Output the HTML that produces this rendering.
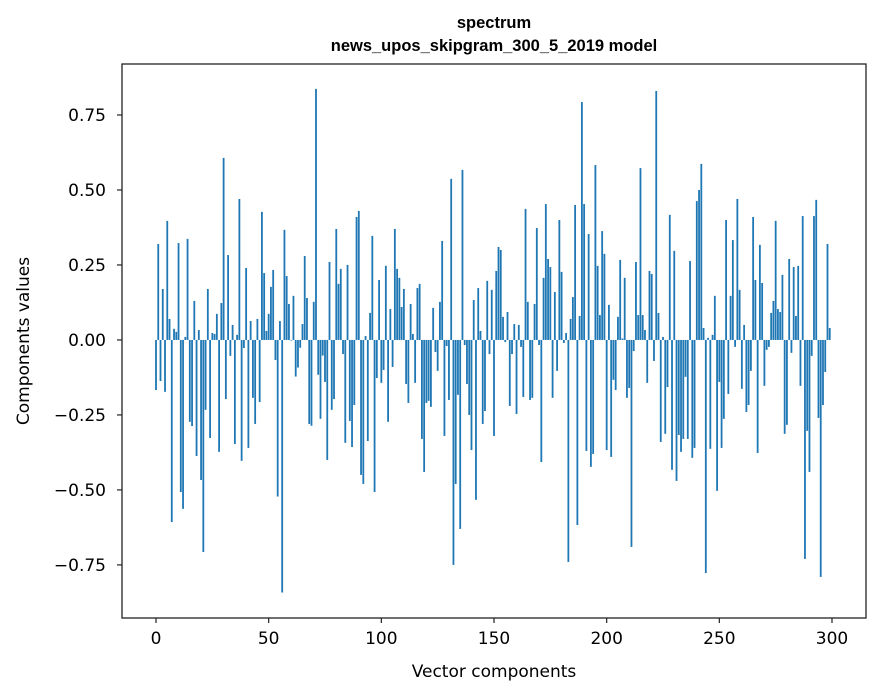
<!DOCTYPE html>
<html><head><meta charset="utf-8"><style>
body{margin:0;background:#fff;width:880px;height:696px;overflow:hidden}
svg{display:block}
text{font-family:"DejaVu Sans","Liberation Sans",sans-serif;fill:#000}
.t{font-family:"Liberation Sans",sans-serif;font-weight:bold;font-size:16.5px}
</style></head><body>
<svg id="chart" width="880" height="696" viewBox="0 0 880 696" xmlns="http://www.w3.org/2000/svg">
<text class="t" x="494" y="28" text-anchor="middle">spectrum</text>
<text class="t" x="494" y="51" text-anchor="middle">news_upos_skipgram_300_5_2019 model</text>
<g id="bars"></g>
<g id="xticks"></g>
<g id="yticks"></g>
<rect x="122" y="64" width="744" height="554" fill="none" stroke="#222" stroke-width="1.3"/>
<text x="494" y="677" text-anchor="middle" font-size="17">Vector components</text>
<text x="0" y="0" transform="translate(29,341) rotate(-90)" text-anchor="middle" font-size="17">Components values</text>
</svg>
<script>
const values = [
-0.167,0.32,-0.137,0.17,-0.173,0.397,0.07,-0.607,0.037,0.027,
0.323,-0.507,-0.563,0.01,0.337,-0.273,-0.287,0.13,-0.387,0.033,
-0.467,-0.707,-0.233,0.17,-0.327,0.023,0.02,0.087,-0.373,0.123,
0.607,-0.197,0.283,-0.053,0.05,-0.347,0.017,0.47,-0.403,-0.027,
0.24,-0.36,0.063,-0.193,-0.28,0.07,-0.207,0.427,0.223,0.03,
0.087,0.177,0.233,-0.067,-0.522,0.063,-0.842,0.367,0.213,0.12,
-0.002,0.147,-0.122,-0.092,-0.026,0.053,0.28,0.14,-0.28,-0.286,
0.127,0.837,-0.116,-0.263,-0.052,-0.14,-0.4,0.26,-0.233,-0.197,
0.37,0.187,0.237,-0.047,-0.343,0.25,-0.27,-0.357,-0.217,0.41,
0.43,-0.45,-0.48,0.013,-0.337,0.09,0.347,-0.507,-0.127,0.2,
-0.143,-0.1,0.247,-0.273,0.103,-0.09,0.37,0.237,0.207,0.11,
0.17,-0.147,-0.21,0.12,0.02,-0.143,0.173,0.187,-0.33,-0.44,
-0.21,-0.203,-0.223,0.107,-0.04,-0.103,0.127,0.33,-0.32,-0.02,
-0.2,0.537,-0.75,-0.48,-0.183,-0.63,0.567,-0.017,-0.147,-0.25,
-0.367,0.133,-0.533,0.173,0.03,-0.28,-0.237,0.197,-0.047,0.167,
-0.32,0.23,0.31,0.3,0.077,-0.007,0.093,-0.22,-0.047,0.053,
-0.247,0.05,-0.023,-0.19,0.437,0.127,-0.2,-0.193,0.12,0.373,
-0.017,-0.407,0.207,0.453,0.27,0.243,-0.193,0.16,-0.103,0.4,
0.227,-0.01,0.023,-0.74,0.07,0.143,0.45,-0.617,0.08,0.793,
0.453,-0.37,0.353,-0.423,-0.38,0.583,0.247,0.083,0.363,0.287,
-0.367,0.117,-0.39,-0.133,-0.167,0.077,0.267,0.005,0.207,-0.193,
-0.16,-0.69,-0.037,0.26,0.083,0.573,0.083,0.033,-0.143,0.23,
0.22,-0.07,0.83,0.09,-0.34,0.01,-0.313,-0.157,0.417,-0.433,
0.297,-0.47,-0.317,-0.373,-0.33,-0.123,-0.33,0.263,-0.393,-0.36,
0.463,0.5,0.587,0.04,-0.777,0.007,-0.363,0.017,0.147,-0.503,
-0.14,-0.36,-0.263,0.4,-0.18,0.147,0.333,-0.023,0.47,0.167,
-0.163,0.05,-0.24,-0.217,-0.103,0.41,0.2,-0.377,0.317,0.19,
-0.153,-0.033,-0.023,0.09,0.13,0.397,0.103,0.093,0.217,-0.313,
-0.283,0.27,-0.043,0.243,0.08,0.247,-0.153,0.413,-0.73,-0.303,
-0.44,-0.053,0.413,0.467,-0.26,-0.79,-0.217,-0.107,0.32,0.04
];
const xTicks = [0,50,100,150,200,250,300];
const yTicks = [-0.75,-0.5,-0.25,0,0.25,0.5,0.75];
const yTickLabels = ["\u22120.75","\u22120.50","\u22120.25","0.00","0.25","0.50","0.75"];

const NS="http://www.w3.org/2000/svg";
const X0=122,X1=866,Y0=64,Y1=618;
const xmin=-15.09,xmax=315.09,ymin=-0.927,ymax=0.92;
const xs=v=>X0+(v-xmin)/(xmax-xmin)*(X1-X0);
const ys=v=>Y1-(v-ymin)/(ymax-ymin)*(Y1-Y0);
const bars=document.getElementById('bars');
values.forEach((v,i)=>{
  const r=document.createElementNS(NS,'rect');
  const xl=xs(i-0.4), xr=xs(i+0.4);
  const y0=ys(0), yv=ys(v);
  r.setAttribute('x',xl);r.setAttribute('width',xr-xl);
  r.setAttribute('y',Math.min(y0,yv));r.setAttribute('height',Math.abs(yv-y0));
  r.setAttribute('fill','#1f77b4');
  
  
  bars.appendChild(r);
});
const xg=document.getElementById('xticks');
xTicks.forEach(t=>{
  const x=xs(t);
  const l=document.createElementNS(NS,'line');
  l.setAttribute('x1',x);l.setAttribute('x2',x);l.setAttribute('y1',Y1);l.setAttribute('y2',Y1+5);
  l.setAttribute('stroke','#222');l.setAttribute('stroke-width','1.2');
  
  
  xg.appendChild(l);
  const tx=document.createElementNS(NS,'text');
  tx.setAttribute('x',x);tx.setAttribute('y',Y1+26);tx.setAttribute('text-anchor','middle');tx.setAttribute('font-size','17');
  tx.textContent=t;
  
  
  xg.appendChild(tx);
});
const yg=document.getElementById('yticks');
yTicks.forEach((t,k)=>{
  const y=ys(t);
  const l=document.createElementNS(NS,'line');
  l.setAttribute('x1',X0-5);l.setAttribute('x2',X0);l.setAttribute('y1',y);l.setAttribute('y2',y);
  l.setAttribute('stroke','#222');l.setAttribute('stroke-width','1.2');
  
  
  yg.appendChild(l);
  const tx=document.createElementNS(NS,'text');
  tx.setAttribute('x',X0-16);tx.setAttribute('y',y+6);tx.setAttribute('text-anchor','end');tx.setAttribute('font-size','17');
  tx.textContent=yTickLabels[k];
  
  
  yg.appendChild(tx);
});
</script>
</body></html>
